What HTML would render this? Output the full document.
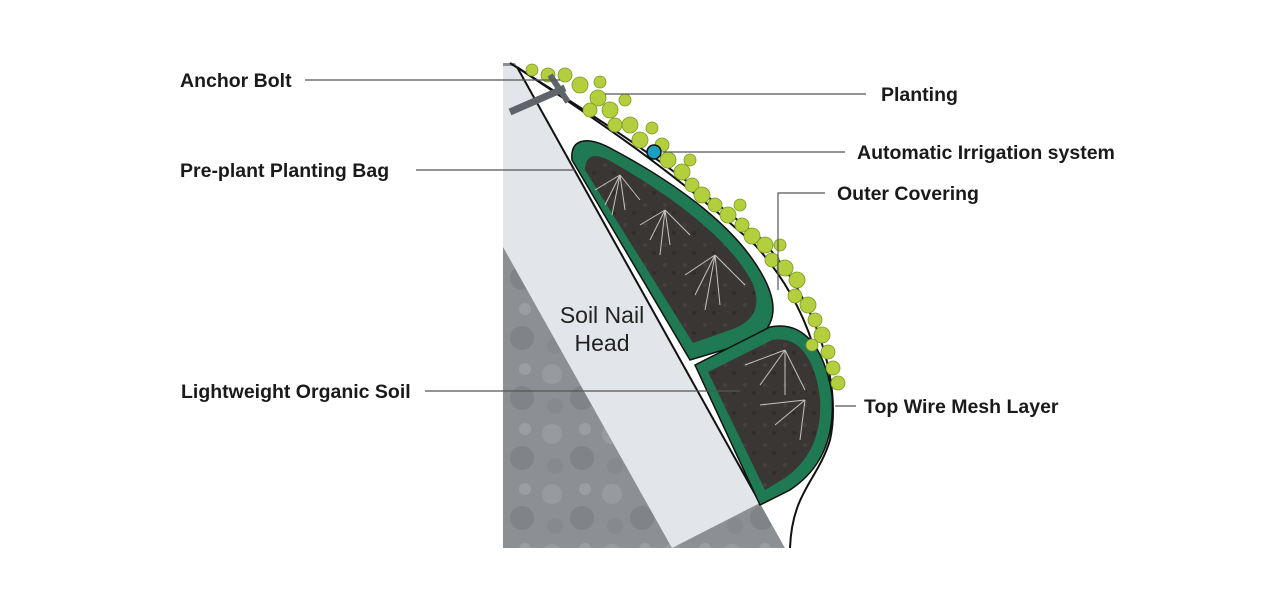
<!DOCTYPE html>
<html><head><meta charset="utf-8"><style>
body{margin:0;background:#fff;}
svg{display:block}
text.l{font-family:"Liberation Sans",sans-serif;font-weight:bold;font-size:19.5px;fill:#1a1a1a}
</style></head><body>
<svg width="1280" height="597" viewBox="0 0 1280 597" xmlns="http://www.w3.org/2000/svg">
<defs>
<pattern id="rock" width="60" height="60" patternUnits="userSpaceOnUse">
<rect width="60" height="60" fill="#8c9094"/>
<circle cx="12" cy="14" r="10" fill="#979b9f"/><circle cx="42" cy="38" r="12" fill="#808488"/><circle cx="45" cy="9" r="6" fill="#9a9ea1"/><circle cx="15" cy="46" r="8" fill="#868a8e"/>
</pattern>
<pattern id="soil" width="20" height="20" patternUnits="userSpaceOnUse">
<rect width="20" height="20" fill="#3a3633"/><circle cx="5" cy="5" r="2" fill="#45403b"/><circle cx="14" cy="13" r="2" fill="#2f2c29"/>
</pattern>
</defs>
<polygon points="503,63 515,63 785,548 503,548" fill="url(#rock)"/>
<polygon points="503,66 515,66 760,503 672,548 503,247" fill="#e2e5ea"/>
<path d="M515,66 C560,95 650,150 760,240 C815,300 840,380 828,440 C815,480 790,490 790,548 L785,548 L515,66 Z" fill="#fff"/>
<path d="M510,63 C560,95 650,148 760,238 C818,300 842,385 830,440 C818,480 792,492 790,548" fill="none" stroke="#111" stroke-width="2"/>
<path d="M517,67 C565,100 655,155 755,245 C810,305 832,385 822,440 C805,480 770,500 760,503" fill="none" stroke="#111" stroke-width="2"/>
<path d="M517,67 L760,503" stroke="#111" stroke-width="2"/>
<path d="M572,160 C570,140 585,135 610,148 C680,185 740,230 765,280 C780,310 775,335 740,345 L690,360 Z" fill="#1f7a53" stroke="#111" stroke-width="1.5"/>
<path d="M585,170 C585,155 595,152 612,162 C675,198 730,240 752,282 C762,305 755,322 730,330 L693,343 Z" fill="url(#soil)"/>
<path d="M695,365 L770,327 C805,320 825,350 832,395 C835,440 820,470 790,490 L760,505 Z" fill="#1f7a53" stroke="#111" stroke-width="1.5"/>
<path d="M708,372 L772,340 C800,335 815,360 820,398 C822,435 810,460 785,478 L765,490 Z" fill="url(#soil)"/>
<g stroke="#ddd" stroke-width="1" fill="none" opacity="0.85">
<path d="M620,175 l-15,30 M620,175 l5,35 M620,175 l20,25 M620,175 l-25,15 M620,175 l-8,40"/>
<path d="M665,210 l-15,30 M665,210 l5,35 M665,210 l25,25 M665,210 l-25,15 M665,210 l-5,45"/>
<path d="M715,255 l-20,40 M715,255 l5,50 M715,255 l30,30 M715,255 l-30,20 M715,255 l-10,55"/>
<path d="M785,350 l-25,35 M785,350 l0,45 M785,350 l-40,15 M785,350 l20,40"/>
<path d="M805,400 l-30,25 M805,400 l-5,40 M805,400 l-45,5"/>
</g>
<g fill="#b3cf3e" stroke="#7a9a22" stroke-width="0.8">
<circle cx="532" cy="70" r="6"/><circle cx="548" cy="75" r="7"/><circle cx="565" cy="75" r="7"/><circle cx="580" cy="85" r="8"/><circle cx="598" cy="98" r="8"/><circle cx="590" cy="110" r="7"/><circle cx="610" cy="110" r="8"/><circle cx="615" cy="125" r="7"/><circle cx="630" cy="125" r="8"/><circle cx="640" cy="140" r="8"/><circle cx="662" cy="145" r="7"/><circle cx="668" cy="160" r="8"/><circle cx="682" cy="172" r="8"/><circle cx="692" cy="185" r="7"/><circle cx="702" cy="195" r="8"/><circle cx="715" cy="205" r="7"/><circle cx="728" cy="215" r="8"/><circle cx="742" cy="225" r="7"/><circle cx="752" cy="236" r="8"/><circle cx="765" cy="245" r="8"/><circle cx="772" cy="260" r="7"/><circle cx="785" cy="268" r="8"/><circle cx="797" cy="280" r="8"/><circle cx="795" cy="296" r="7"/><circle cx="808" cy="305" r="8"/><circle cx="815" cy="320" r="7"/><circle cx="822" cy="335" r="8"/><circle cx="828" cy="352" r="7"/><circle cx="833" cy="368" r="7"/><circle cx="838" cy="383" r="7"/><circle cx="812" cy="345" r="6"/>
<circle cx="600" cy="82" r="6"/><circle cx="625" cy="100" r="6"/><circle cx="652" cy="128" r="6"/><circle cx="690" cy="160" r="6"/><circle cx="740" cy="205" r="6"/><circle cx="780" cy="245" r="6"/>
</g>
<line x1="510" y1="112" x2="565" y2="88" stroke="#5e6469" stroke-width="7"/>
<line x1="550" y1="75" x2="568" y2="102" stroke="#5e6469" stroke-width="6"/>
<circle cx="654" cy="152" r="7" fill="#1aa0c0" stroke="#111" stroke-width="1.5"/>
<g stroke="#555" stroke-width="1.2" fill="none">
<line x1="305" y1="80" x2="560" y2="80"/>
<line x1="605" y1="94" x2="866" y2="94"/>
<line x1="663" y1="152" x2="845" y2="152"/>
<line x1="416" y1="170" x2="575" y2="170"/>
<polyline points="778,290 778,193 825,193"/>
<line x1="425" y1="391" x2="740" y2="391"/>
<line x1="835" y1="406" x2="856" y2="406"/>
</g>
<text class="l" x="180" y="87">Anchor Bolt</text>
<text class="l" x="881" y="101">Planting</text>
<text class="l" x="857" y="159">Automatic Irrigation system</text>
<text class="l" x="180" y="177">Pre-plant Planting Bag</text>
<text class="l" x="837" y="200">Outer Covering</text>
<text class="l" x="181" y="398">Lightweight Organic Soil</text>
<text class="l" x="864" y="413">Top Wire Mesh Layer</text>
<text x="602" y="323" text-anchor="middle" font-family="Liberation Sans,sans-serif" font-size="23" fill="#222">Soil Nail</text>
<text x="602" y="351" text-anchor="middle" font-family="Liberation Sans,sans-serif" font-size="23" fill="#222">Head</text>
</svg>
</body></html>
